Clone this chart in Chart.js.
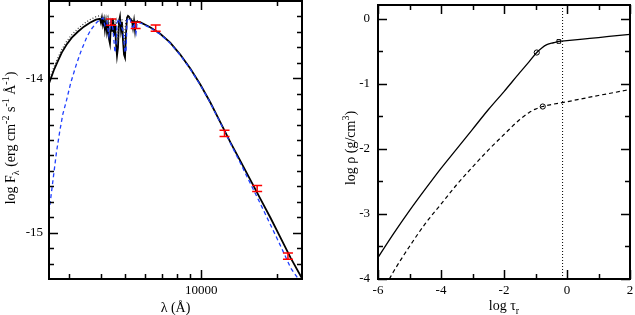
<!DOCTYPE html>
<html>
<head>
<meta charset="utf-8">
<script src="https://cdn.jsdelivr.net/npm/chart.js@4.4.1/dist/chart.umd.min.js"></script>
<style>
  html, body { margin: 0; padding: 0; background: #fff; }
  #wrap { position: relative; width: 635px; height: 315px; }
  #sed { position: absolute; left: 0; top: 0; }
  #rho { position: absolute; left: 320px; top: 0; }
</style>
</head>
<body>
<div id="wrap">
  <canvas id="sed" width="320" height="315"></canvas>
  <canvas id="rho" width="315" height="315"></canvas>
</div>
<script>
// ---- left panel: log F_lambda vs wavelength ----
// model spectrum (solid black)
const modelLam = [2500, 2610, 2715, 2808, 2931, 3077, 3250, 3434, 3627, 3832, 3974,
  4011, 4048, 4084, 4122, 4159, 4198, 4236, 4275, 4314, 4354, 4394, 4434, 4474, 4515,
  4557, 4598, 4642, 4684, 4727, 4770, 4814, 4858, 4903, 4948, 4993, 5039, 5085, 5131,
  5179, 5226, 5322, 5371, 5420, 5470, 5520, 5727, 6276, 6877, 7534, 8254, 9044, 9909,
  10856, 11895, 13033, 14279, 15645, 17142, 18781, 20578, 22546, 25170];
const modelFlux = [-14.034, -13.950, -13.886, -13.834, -13.783, -13.737, -13.699, -13.666, -13.641, -13.621, -13.615,
  -13.641, -13.608, -13.653, -13.621, -13.686, -13.634, -13.699, -13.653, -13.744, -13.776, -13.647, -13.699, -13.615, -13.724,
  -13.647, -13.770, -13.854, -13.802, -13.634, -13.602, -13.686, -13.634, -13.757, -13.847, -13.866, -13.712, -13.608, -13.596,
  -13.602, -13.615, -13.628, -13.673, -13.628, -13.692, -13.634, -13.637, -13.670, -13.712, -13.770, -13.847, -13.937, -14.041,
  -14.157, -14.286, -14.415, -14.537, -14.660, -14.783, -14.905, -15.034, -15.163, -15.305];

// second model (dotted black)
const altLam = [2500, 2610, 2715, 2808, 2931, 3077, 3250, 3434, 3627, 3832, 3974,
  4122, 4198, 4275, 4354, 4434, 4515, 4598, 4684, 4727, 4858, 4948, 5039, 5131, 5226, 5727];
const altFlux = [-14.015, -13.931, -13.866, -13.815, -13.763, -13.718, -13.679, -13.647, -13.621, -13.602, -13.595,
  -13.608, -13.641, -13.602, -13.679, -13.608, -13.653, -13.621, -13.757, -13.608, -13.615, -13.770, -13.615, -13.602, -13.612, -13.634];

// third model (blue dashed)
const blueLam = [2500, 2563, 2622, 2676, 2757, 2834, 2931, 3049, 3212, 3340, 3519, 3660, 3856, 3974, 4090,
  4159, 4236, 4314, 4394, 4474, 4557, 4598, 4642, 4727, 4814, 4903, 4993, 5039, 5085, 5179, 5226,
  5371, 5420, 5520, 5571, 5727, 6276, 6877, 7534, 8254, 9044, 9909, 10856, 11895, 13033, 14279,
  15645, 17142, 18781, 20578, 22546, 24310];
const blueFlux = [-14.866, -14.725, -14.595, -14.479, -14.344, -14.234, -14.144, -14.028, -13.907, -13.828, -13.737, -13.686, -13.639, -13.621, -13.610,
  -13.660, -13.634, -13.724, -13.628, -13.679, -13.834, -13.789, -13.641, -13.615, -13.660, -13.692, -13.834, -13.821, -13.628, -13.608, -13.615,
  -13.692, -13.641, -13.705, -13.641, -13.641, -13.673, -13.715, -13.773, -13.850, -13.941, -14.044, -14.160, -14.289, -14.421, -14.550,
  -14.683, -14.815, -14.950, -15.086, -15.228, -15.305];

// photometry (red, with error bars)
const photLam = [4400, 5500, 6600, 12350, 16620, 22000];
const photFlux = [-13.637, -13.658, -13.676, -14.357, -14.714, -15.152];
const photErr = [0.02, 0.02, 0.02, 0.02, 0.02, 0.02];

const sedXMajor = [10000];
const sedXMinor = [3000, 4000, 5000, 6000, 7000, 8000, 9000, 20000];
const sedYMajor = [-15, -14];
const sedYMinor = [-15.2, -15.1, -14.9, -14.8, -14.7, -14.6, -14.5, -14.4, -14.3, -14.2, -14.1,
  -13.9, -13.8, -13.7, -13.6];

// ---- right panel: log rho vs log tau_r ----
const solidTau = [-6, -5.5, -5, -4.5, -4, -3.5, -3, -2.5, -2, -1.5, -1.2, -0.96, -0.8, -0.64, -0.43, -0.26, 0, 0.5, 1, 1.5, 2];
const solidRho = [-3.67, -3.3, -2.95, -2.62, -2.3, -2.0, -1.7, -1.4, -1.12, -0.83, -0.66, -0.52, -0.45, -0.40, -0.37, -0.35, -0.337, -0.313, -0.29, -0.265, -0.24];
const dashTau = [-5.64, -5.5, -5, -4.5, -4, -3.5, -3, -2.5, -2, -1.5, -1.2, -1, -0.77, -0.5, 0, 0.5, 1, 1.5, 2];
const dashRho = [-4.0, -3.88, -3.5, -3.15, -2.85, -2.55, -2.28, -2.02, -1.78, -1.55, -1.44, -1.39, -1.35, -1.32, -1.276, -1.228, -1.18, -1.135, -1.088];
const circleTau = [-0.96, -0.77];
const circleRho = [-0.52, -1.35];
const squareTau = [-0.26];
const squareRho = [-0.35];
const surfaceTau = -0.14;

const rhoXMajor = [-6, -4, -2, 0, 2];
const rhoXMinor = [-5, -3, -1, 1];
const rhoYMajor = [-4, -3, -2, -1, 0];
const rhoYMinor = [-3.5, -2.5, -1.5, -0.5];

Chart.defaults.font.family = "'Liberation Serif', 'Times New Roman', serif";
Chart.defaults.font.size = 13;
Chart.defaults.color = '#000';

function pts(xs, ys) {
  return xs.map((x, i) => ({ x: x, y: ys[i] }));
}

// frame with inward ticks on all four sides, xmgrace style
const frameTicks = {
  id: 'frameTicks',
  afterDraw(chart, args, o) {
    const ctx = chart.ctx, a = chart.chartArea;
    const xs = chart.scales.x, ys = chart.scales.y;
    ctx.save();
    ctx.strokeStyle = '#000';
    ctx.lineWidth = 1.5;
    ctx.beginPath();
    const xt = (list, len) => list.forEach(v => {
      const p = Math.round(xs.getPixelForValue(v)) + 0.5;
      ctx.moveTo(p, a.bottom); ctx.lineTo(p, a.bottom - len);
      ctx.moveTo(p, a.top); ctx.lineTo(p, a.top + len);
    });
    const yt = (list, len) => list.forEach(v => {
      const p = Math.round(ys.getPixelForValue(v)) + 0.5;
      ctx.moveTo(a.left, p); ctx.lineTo(a.left + len, p);
      ctx.moveTo(a.right, p); ctx.lineTo(a.right - len, p);
    });
    xt(o.xMajor, 9); xt(o.xMinor, 5);
    yt(o.yMajor, 9); yt(o.yMinor, 5);
    ctx.stroke();
    ctx.lineWidth = 2;
    ctx.strokeRect(a.left, a.top, a.right - a.left, a.bottom - a.top);
    ctx.restore();
  }
};

// text with sub- and superscripts
function drawRich(ctx, parts, cx, cy, rot) {
  const big = "14px 'Liberation Serif', serif";
  const small = "10px 'Liberation Serif', serif";
  let w = 0;
  parts.forEach(p => { ctx.font = p.s ? small : big; w += ctx.measureText(p.t).width; });
  ctx.save();
  ctx.translate(cx, cy);
  if (rot) ctx.rotate(-Math.PI / 2);
  ctx.fillStyle = '#000';
  ctx.textBaseline = 'alphabetic';
  let x = -w / 2;
  parts.forEach(p => {
    ctx.font = p.s ? small : big;
    const dy = p.s === 'sup' ? -6 : (p.s === 'sub' ? 4 : 0);
    ctx.fillText(p.t, x, 5 + dy);
    x += ctx.measureText(p.t).width;
  });
  ctx.restore();
}

const richTitles = {
  id: 'richTitles',
  afterDraw(chart, args, o) {
    const a = chart.chartArea, ctx = chart.ctx;
    drawRich(ctx, o.x, (a.left + a.right) / 2, o.xY, false);
    drawRich(ctx, o.y, o.yX, (a.top + a.bottom) / 2 + o.yShift, true);
  }
};

const errorBars = {
  id: 'errorBars',
  afterDatasetsDraw(chart) {
    const ctx = chart.ctx, xs = chart.scales.x, ys = chart.scales.y;
    ctx.save();
    ctx.strokeStyle = '#ff0000';
    ctx.lineWidth = 1.5;
    ctx.beginPath();
    photLam.forEach((l, i) => {
      const x = xs.getPixelForValue(l);
      const y1 = ys.getPixelForValue(photFlux[i] + photErr[i]);
      const y2 = ys.getPixelForValue(photFlux[i] - photErr[i]);
      ctx.moveTo(x, y1); ctx.lineTo(x, y2);
      ctx.moveTo(x - 5, y1); ctx.lineTo(x + 5, y1);
      ctx.moveTo(x - 5, y2); ctx.lineTo(x + 5, y2);
    });
    ctx.stroke();
    ctx.restore();
  }
};

function fixX(h) {
  return function (s) { s.height = h; s.paddingLeft = 0; s.paddingRight = 0; };
}
function fixY(w) {
  return function (s) { s.width = w; s.paddingTop = 0; s.paddingBottom = 0; };
}

new Chart(document.getElementById('sed'), {
  type: 'scatter',
  data: {
    datasets: [
      { data: pts(blueLam, blueFlux), showLine: true, borderColor: '#1f3fff', borderWidth: 1.3,
        borderDash: [4, 3], pointRadius: 0, tension: 0 },
      { data: pts(altLam, altFlux), showLine: true, borderColor: '#333', borderWidth: 1.2,
        borderDash: [1, 2], pointRadius: 0, tension: 0 },
      { data: pts(modelLam, modelFlux), showLine: true, borderColor: '#000', borderWidth: 1.8,
        pointRadius: 0, tension: 0 }
    ]
  },
  options: {
    responsive: false,
    animation: false,
    events: [],
    layout: { padding: { left: 0, right: 18, top: 1, bottom: 0 } },
    plugins: {
      legend: { display: false },
      tooltip: { enabled: false },
      frameTicks: { xMajor: sedXMajor, xMinor: sedXMinor, yMajor: sedYMajor, yMinor: sedYMinor },
      richTitles: {
        x: [{ t: 'λ (Å)' }],
        xY: 307,
        y: [{ t: 'log F' }, { t: 'λ', s: 'sub' }, { t: ' (erg cm' }, { t: '-2', s: 'sup' },
            { t: ' s' }, { t: '-1', s: 'sup' }, { t: ' Å' }, { t: '-1', s: 'sup' }, { t: ')' }],
        yX: 10,
        yShift: -2
      }
    },
    scales: {
      x: {
        type: 'logarithmic', min: 2500, max: 25000,
        grid: { display: false, drawTicks: false }, border: { display: false },
        afterBuildTicks: s => { s.ticks = sedXMajor.map(v => ({ value: v })); },
        ticks: { padding: 4, maxRotation: 0, callback: v => String(v) },
        afterFit: fixX(36)
      },
      y: {
        type: 'linear', min: -15.3, max: -13.5,
        grid: { display: false, drawTicks: false }, border: { display: false },
        afterBuildTicks: s => { s.ticks = sedYMajor.map(v => ({ value: v })); },
        ticks: { padding: 6, callback: v => String(v) },
        afterFit: fixY(49)
      }
    }
  },
  plugins: [errorBars, frameTicks, richTitles]
});

new Chart(document.getElementById('rho'), {
  type: 'scatter',
  data: {
    datasets: [
      { data: [{ x: surfaceTau, y: -4 }, { x: surfaceTau, y: 0.3 }], showLine: true, borderColor: '#000',
        borderWidth: 1, borderDash: [1, 2], pointRadius: 0 },
      { data: pts(solidTau, solidRho), showLine: true, borderColor: '#000', borderWidth: 1.3,
        pointRadius: 0, cubicInterpolationMode: 'monotone' },
      { data: pts(dashTau, dashRho), showLine: true, borderColor: '#000', borderWidth: 1.2,
        borderDash: [4, 3], pointRadius: 0, cubicInterpolationMode: 'monotone' },
      { data: pts(circleTau, circleRho), showLine: false, pointStyle: 'circle', pointRadius: 2.6,
        borderColor: '#000', backgroundColor: '#fff', borderWidth: 1 },
      { data: pts(squareTau, squareRho), showLine: false, pointStyle: 'rect', pointRadius: 2.6,
        borderColor: '#000', backgroundColor: '#fff', borderWidth: 1 }
    ]
  },
  options: {
    responsive: false,
    animation: false,
    events: [],
    layout: { padding: { left: 0, right: 3, top: 1, bottom: 0 } },
    plugins: {
      legend: { display: false },
      tooltip: { enabled: false },
      frameTicks: { xMajor: rhoXMajor, xMinor: rhoXMinor, yMajor: rhoYMajor, yMinor: rhoYMinor },
      richTitles: {
        x: [{ t: 'log τ' }, { t: 'r', s: 'sub' }],
        xY: 305,
        y: [{ t: 'log ρ (g/cm' }, { t: '3', s: 'sup' }, { t: ')' }],
        yX: 30,
        yShift: 6
      }
    },
    scales: {
      x: {
        type: 'linear', min: -6, max: 2,
        grid: { display: false, drawTicks: false }, border: { display: false },
        afterBuildTicks: s => { s.ticks = rhoXMajor.map(v => ({ value: v })); },
        ticks: { padding: 4, maxRotation: 0, callback: v => String(v) },
        afterFit: fixX(36)
      },
      y: {
        type: 'linear', min: -4, max: 0.21,
        grid: { display: false, drawTicks: false }, border: { display: false },
        afterBuildTicks: s => { s.ticks = rhoYMajor.map(v => ({ value: v })); },
        ticks: { padding: 8, callback: v => String(v) },
        afterFit: fixY(58)
      }
    }
  },
  plugins: [frameTicks, richTitles]
});
</script>
</body>
</html>
